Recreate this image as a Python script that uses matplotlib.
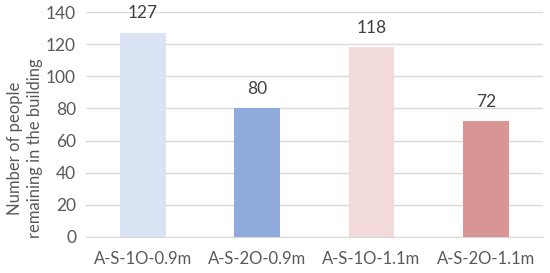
import matplotlib.pyplot as plt
import numpy as np

plt.rcParams['font.family'] = ['Lato', 'DejaVu Sans']

categories = ["A-S-1O-0.9m", "A-S-2O-0.9m", "A-S-1O-1.1m", "A-S-2O-1.1m"]
values = [127, 80, 118, 72]
colors = ["#DAE3F3", "#8FAADC", "#F2D9DA", "#D99594"]

fig = plt.figure(figsize=(5.5, 2.73), dpi=100)
ax = fig.add_axes([0.156, 0.132, 0.831, 0.824])

x = np.arange(len(categories))
bars = ax.bar(x, values, width=0.4, color=colors, zorder=3)
for b, v in zip(bars, values):
    ax.annotate(str(v), (b.get_x() + b.get_width() / 2, v), xytext=(0, 14),
                textcoords="offset points", ha="center", va="center",
                fontsize=12.5, color="#404040")

ax.set_xlim(-0.5, len(categories) - 0.5)
ax.set_ylim(0, 140)
ax.set_yticks(range(0, 141, 20))
ax.set_xticks(x)
ax.set_xticklabels(categories)
ax.tick_params(axis="both", length=0, labelcolor="#595959")
ax.tick_params(axis="x", pad=10, labelsize=12)
ax.tick_params(axis="y", pad=7, labelsize=12.5)
ax.grid(axis="y", color="#D9D9D9", linewidth=1, zorder=0)
for s in ["top", "right", "left"]:
    ax.spines[s].set_visible(False)
ax.spines["bottom"].set_color("#D9D9D9")

fig.text(25 / 550, 1 - 148 / 273, "Number of people\nremaining in the building",
         rotation=90, ha="center", va="center", multialignment="center",
         fontsize=12, color="#595959", linespacing=1.3)

fig.savefig("out.png", dpi=100)
